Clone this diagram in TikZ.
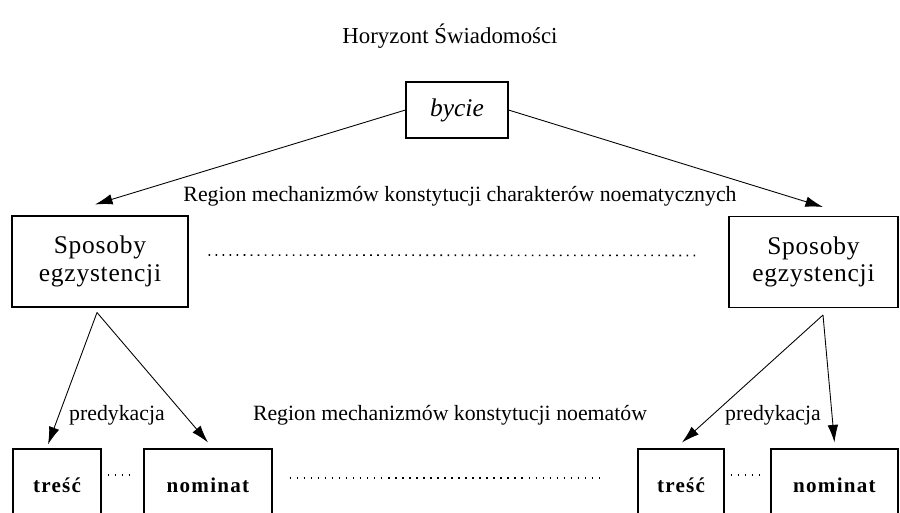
\documentclass[tikz,border=0pt]{standalone}
\usepackage{fontspec}
\setmainfont{Liberation Serif}
\newfontfamily\spacedbold[LetterSpace=6]{Liberation Serif}
\newfontfamily\spacedroman[LetterSpace=3]{Liberation Serif}
\usetikzlibrary{arrows.meta,calc}
\tikzset{
  box/.style={draw, line width=0.6pt, inner sep=0pt, align=center},
  sposob/.style={box, minimum height=1.82cm, font=\fontsize{14.5}{15.5}\selectfont\spacedroman},
  leaf/.style={box, minimum height=1.44cm, font=\fontsize{12}{14}\selectfont\spacedbold\bfseries},
  arr/.style={-{Latex[length=10pt,width=6pt]}, line width=0.5pt},
  dots/.style={line width=0.9pt, dash pattern=on 0.9pt off 3.1pt},
  lbl/.style={font=\fontsize{12.4}{14}\selectfont}
}
\begin{document}
\begin{tikzpicture}
\useasboundingbox (0,0) rectangle (18,10.24);
\node (H) at (9.0,9.52) {\fontsize{13}{15}\selectfont Horyzont Świadomości};
\node[box, minimum width=2.04cm, minimum height=1.12cm, font=\fontsize{14.5}{16}\selectfont\itshape] (B) at (9.14,8.04) {bycie};
\node[lbl] (R1) at (9.2,6.32) {Region mechanizmów konstytucji charakterów noematycznych};
\node[sposob, minimum width=3.52cm] (PL) at (2.0,5.01) {Sposoby\\egzystencji};
\node[sposob, minimum width=3.38cm] (PR) at (16.27,5.0) {Sposoby\\egzystencji};
\coordinate (SL) at ($(PL.north)+(-0.1,0.22)$);
\coordinate (SR) at ($(PR.north)+(0.19,0.18)$);
\draw[arr] (B.west) -- (SL);
\draw[arr] (B.east) -- (SR);
\draw[dots] ([yshift=0.13cm]PL.east) ++(0.4,0) -- ([yshift=0.13cm,xshift=-0.58cm]PR.west);
\coordinate (AL) at ($(PL.south)+(-0.06,-0.1)$);
\coordinate (AR) at ($(PR.south)+(0.19,-0.14)$);
\node[leaf, minimum width=1.76cm] (TL) at (1.14,0.54) {treść};
\node[leaf, minimum width=2.56cm] (NL) at (4.16,0.54) {nominat};
\node[leaf, minimum width=1.72cm] (TR) at (13.62,0.54) {treść};
\node[leaf, minimum width=2.54cm] (NR) at (16.69,0.54) {nominat};
\draw[arr] (AL) -- ($(TL.north)+(-0.18,0.08)$);
\draw[arr] (AL) -- ($(NL.north)+(0,0.12)$);
\draw[arr] (AR) -- ($(TR.north)+(0.02,0.12)$);
\draw[arr] (AR) -- ($(NR.north)+(0,0.12)$);
\node[lbl] (PKL) at (2.34,1.94) {predykacja};
\node[lbl] (PKR) at (15.46,1.94) {predykacja};
\node[lbl] (R2) at (9.0,1.94) {Region mechanizmów konstytucji noematów};
\draw[dots] ([xshift=0.12cm,yshift=0.2cm]TL.east) -- ([xshift=-0.22cm,yshift=0.2cm]NL.west);
\draw[dots] ([xshift=0.12cm,yshift=0.2cm]TR.east) -- ([xshift=-0.22cm,yshift=0.2cm]NR.west);
\draw[dots] ([xshift=0.34cm,yshift=0.14cm]NL.east) -- ([xshift=-0.72cm,yshift=0.14cm]TR.west);
\end{tikzpicture}
\end{document}
